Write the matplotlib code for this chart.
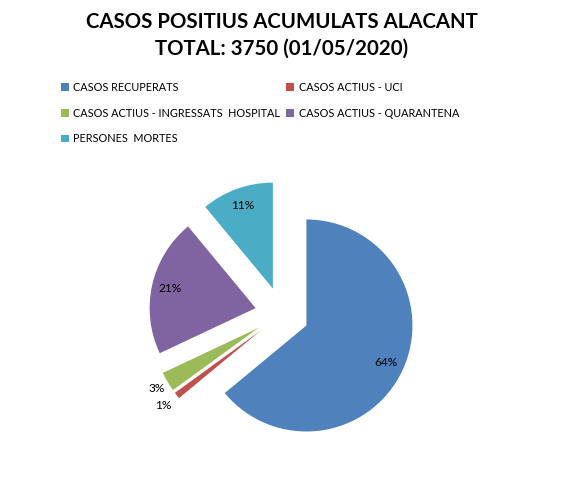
import matplotlib
matplotlib.use("Agg")
import matplotlib.pyplot as plt
import numpy as np

title_lines = ["CASOS POSITIUS ACUMULATS ALACANT", "TOTAL: 3750 (01/05/2020)"]
categories = ["CASOS RECUPERATS", "CASOS ACTIUS - UCI",
              "CASOS ACTIUS - INGRESSATS  HOSPITAL", "CASOS ACTIUS - QUARANTENA",
              "PERSONES  MORTES"]
shares = [64, 1, 3, 21, 11]
colors = ["#4F81BD", "#C0504D", "#9BBB59", "#8064A2", "#4BACC6"]

W, H = 565, 484
fig = plt.figure(figsize=(W / 100, H / 100), dpi=100)
ax = fig.add_axes([0, 0, 1, 1])
ax.set_xlim(0, W)
ax.set_ylim(0, H)
ax.set_aspect("equal")
ax.axis("off")

R = 106
cx, cy = 282, H - 314
wedges, texts, autotexts = ax.pie(
    shares, colors=colors, startangle=90, counterclock=False,
    explode=[27] * len(shares), radius=R, center=(cx, cy),
    autopct="%1.0f%%", pctdistance=0.83,
    textprops=dict(fontsize=8.6, family="Lato", color="black"),
    wedgeprops=dict(linewidth=0),
)
ax.set_xlim(0, W)
ax.set_ylim(0, H)

# move small-slice labels outside
outside = {1: 1.16, 2: 1.12}
for i, w in enumerate(wedges):
    if i in outside:
        ang = np.deg2rad((w.theta1 + w.theta2) / 2)
        px, py = w.center
        d = outside[i] * R
        autotexts[i].set_position((px + d * np.cos(ang), py + d * np.sin(ang)))

fig.text(282 / W, 1 - 22.5 / H, title_lines[0], ha="center", va="center",
         fontsize=14.7, fontweight="bold", family="Lato")
fig.text(282 / W, 1 - 49 / H, title_lines[1], ha="center", va="center",
         fontsize=14.7, fontweight="bold", family="Lato")

order = [0, 2, 4, 1, 3]
leg = fig.legend([wedges[i] for i in order], [categories[i] for i in order],
                 ncol=2, loc="upper left", bbox_to_anchor=(61 / W, 1 - 82 / H),
                 frameon=False, handlelength=0.7, handleheight=0.7,
                 handletextpad=0.45, columnspacing=0.55, labelspacing=1.35,
                 borderaxespad=0, borderpad=0,
                 prop=dict(family="Lato", size=7.8))

fig.savefig("out.png", dpi=100)
